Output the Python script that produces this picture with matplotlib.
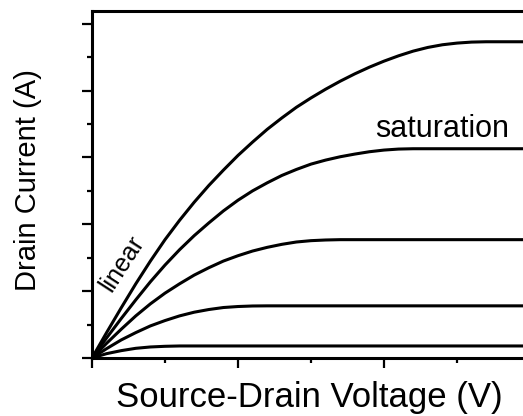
import matplotlib
matplotlib.use("Agg")
import matplotlib.pyplot as plt
from matplotlib.ticker import MultipleLocator, NullFormatter

# Source-drain voltage (arbitrary units)
vsd = [0.0, 0.1, 0.2, 0.3, 0.4, 0.5, 0.6, 0.7, 0.8, 0.9, 1.0, 1.1, 1.2, 1.3, 1.4, 1.5,
       1.6, 1.7, 1.8, 1.9, 2.0, 2.1, 2.2, 2.3, 2.4, 2.5, 2.6, 2.7, 2.8, 2.9, 3.0]

# Drain current curves for increasing gate voltage (arbitrary units)
id_1 = [0, 0.065, 0.11, 0.145, 0.165, 0.175, 0.18, 0.18, 0.18, 0.18, 0.18, 0.18, 0.18, 0.18,
        0.18, 0.18, 0.18, 0.18, 0.18, 0.18, 0.18, 0.18, 0.18, 0.18, 0.18, 0.18, 0.18, 0.18,
        0.18, 0.18, 0.18]
id_2 = [0, 0.14, 0.27, 0.38, 0.48, 0.56, 0.63, 0.685, 0.725, 0.755, 0.77, 0.778, 0.78, 0.78,
        0.78, 0.78, 0.78, 0.78, 0.78, 0.78, 0.78, 0.78, 0.78, 0.78, 0.78, 0.78, 0.78, 0.78,
        0.78, 0.78, 0.78]
id_3 = [0, 0.22, 0.43, 0.63, 0.81, 0.97, 1.11, 1.24, 1.35, 1.45, 1.53, 1.60, 1.655, 1.70,
        1.735, 1.755, 1.765, 1.77, 1.77, 1.77, 1.77, 1.77, 1.77, 1.77, 1.77, 1.77, 1.77, 1.77,
        1.77, 1.77, 1.77]
id_4 = [0, 0.30, 0.59, 0.87, 1.14, 1.39, 1.62, 1.83, 2.02, 2.20, 2.36, 2.50, 2.62, 2.73,
        2.82, 2.90, 2.96, 3.01, 3.05, 3.085, 3.11, 3.125, 3.13, 3.13, 3.13, 3.13, 3.13, 3.13,
        3.13, 3.13, 3.13]
id_5 = [0, 0.38, 0.75, 1.11, 1.45, 1.77, 2.06, 2.33, 2.58, 2.81, 3.03, 3.23, 3.42, 3.59,
        3.75, 3.89, 4.02, 4.14, 4.25, 4.35, 4.44, 4.52, 4.59, 4.645, 4.685, 4.71, 4.725, 4.73,
        4.73, 4.73, 4.73]
curves = [id_1, id_2, id_3, id_4, id_5]

W, H = 523, 416
fig = plt.figure(figsize=(W / 100, H / 100), dpi=100)
ax = fig.add_axes([92 / W, (H - 358) / H, (530 - 92) / W, (358 - 11) / H])

for c in curves:
    ax.plot(vsd, c, color="black", lw=2.2, solid_capstyle="butt", solid_joinstyle="round")

ax.set_xlim(0, 3.0)
ax.set_ylim(0, 5.19)

ax.xaxis.set_major_locator(MultipleLocator(1))
ax.xaxis.set_minor_locator(MultipleLocator(0.5))
ax.yaxis.set_major_locator(MultipleLocator(1))
ax.yaxis.set_minor_locator(MultipleLocator(0.5))
ax.xaxis.set_major_formatter(NullFormatter())
ax.yaxis.set_major_formatter(NullFormatter())
ax.tick_params(which="major", direction="out", length=7.5, width=1.6, color="black")
ax.tick_params(which="minor", direction="out", length=3.8, width=1.6, color="black")
for s in ax.spines.values():
    s.set_linewidth(2.2)
    s.set_color("black")

font = ["Liberation Sans", "DejaVu Sans"]
ax.text(1.938, 3.31, "saturation", fontsize=22, family=font, ha="left", va="baseline")
ax.text(0.205, 1.42, "linear", fontsize=18, family=font, ha="center", va="center",
        rotation=57, rotation_mode="anchor")

fig.text(309 / W, 9 / H, "Source-Drain Voltage (V)", fontsize=25, family=font,
         ha="center", va="baseline")
fig.text(28 / W, 1 - 180 / H, "Drain Current (A)", fontsize=21, family=font,
         ha="center", va="center", rotation=90)

fig.savefig("out.png", dpi=100)
